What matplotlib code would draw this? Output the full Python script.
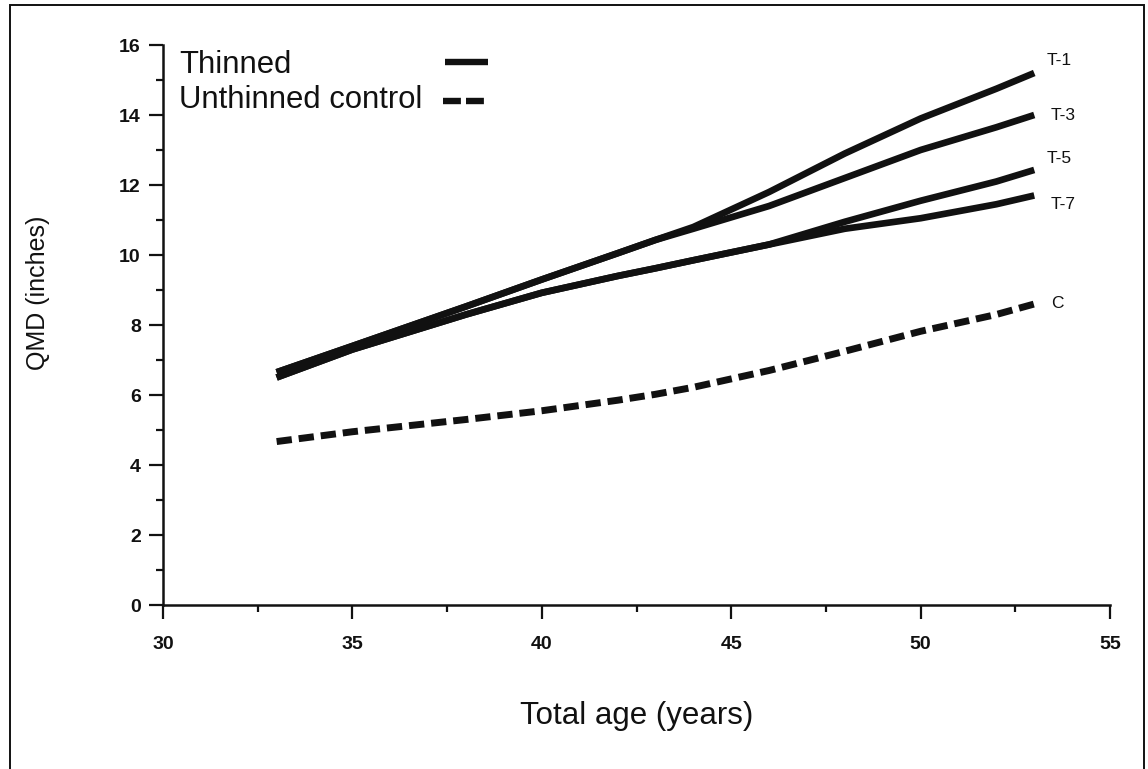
import matplotlib
matplotlib.use("Agg")
import matplotlib.pyplot as plt
from matplotlib.patches import Rectangle
from matplotlib.ticker import MultipleLocator

plt.rcParams['font.family'] = ['Liberation Sans', 'DejaVu Sans']

# ---- data ----
ages = [33, 35, 38, 40, 42, 43, 44, 46, 48, 50, 52, 53]
t1 = [6.65, 7.4, 8.53, 9.3, 10.05, 10.43, 10.8, 11.8, 12.9, 13.9, 14.75, 15.2]
t3 = [6.65, 7.4, 8.53, 9.3, 10.05, 10.43, 10.75, 11.4, 12.2, 13.0, 13.65, 14.0]
t5 = [6.5, 7.3, 8.3, 8.92, 9.4, 9.62, 9.85, 10.3, 10.95, 11.55, 12.1, 12.43]
t7 = [6.5, 7.3, 8.3, 8.92, 9.4, 9.62, 9.85, 10.3, 10.75, 11.05, 11.45, 11.7]
ctrl = [4.67, 4.95, 5.3, 5.55, 5.85, 6.02, 6.22, 6.7, 7.25, 7.82, 8.3, 8.6]

series_names = ['T-1', 'T-3', 'T-5', 'T-7']
label_dy = {'T-1': 0.37, 'T-3': 0.0, 'T-5': 0.34, 'T-7': -0.27, 'C': 0.0}
label_dx = {'T-1': 0.33, 'T-3': 0.42, 'T-5': 0.33, 'T-7': 0.42, 'C': 0.45}

xticks = [30, 35, 40, 45, 50, 55]
yticks = [0, 2, 4, 6, 8, 10, 12, 14, 16]

fig = plt.figure(figsize=(11.48, 7.69), dpi=100)
ax = fig.add_axes([163/1148, 1 - 605/769, (1110-163)/1148, (605-45)/769])

lw = 4.8
for name, vals in zip(series_names, [t1, t3, t5, t7]):
    ax.plot(ages, vals, color='#111111', lw=lw, solid_capstyle='butt',
            solid_joinstyle='round')
    ax.text(ages[-1] + label_dx[name], vals[-1] + label_dy[name], name,
            fontsize=12.5, va='center', ha='left', color='#111111')

ax.plot(ages, ctrl, color='#111111', lw=5.0, dashes=(2.2, 1.0),
        dash_capstyle='butt')
ax.text(ages[-1] + label_dx['C'], ctrl[-1] + label_dy['C'], 'C',
        fontsize=12.5, va='center', ha='left', color='#111111')

ax.set_xlim(30, 55)
ax.set_ylim(0, 16)
for s in ['top', 'right']:
    ax.spines[s].set_visible(False)
for s in ['left', 'bottom']:
    ax.spines[s].set_linewidth(1.8)
    ax.spines[s].set_color('#111111')

ax.set_xticks(xticks)
ax.set_yticks(yticks)
ax.xaxis.set_minor_locator(MultipleLocator(2.5))
ax.yaxis.set_minor_locator(MultipleLocator(1))
ax.tick_params(axis='both', which='major', direction='out', length=10,
               width=1.6, color='#111111')
ax.tick_params(axis='both', which='minor', direction='out', length=5,
               width=1.6, color='#111111')
ax.tick_params(axis='x', which='major', pad=12)
ax.tick_params(axis='y', which='major', pad=6)
for lab in ax.get_xticklabels() + ax.get_yticklabels():
    lab.set_fontsize(14)
    lab.set_fontweight('bold')
    lab.set_color('#111111')

ax.set_xlabel('Total age (years)', fontsize=22.5, labelpad=35, color='#111111')
ax.set_ylabel('QMD (inches)', fontsize=18, color='#111111')
ax.yaxis.set_label_coords(-0.119, 0.557)

# legend (manual)
ax.text(0.0169, 0.964, 'Thinned', transform=ax.transAxes, fontsize=22.3,
        va='center', ha='left', color='#111111')
ax.text(0.0169, 0.901, 'Unthinned control', transform=ax.transAxes, fontsize=22.3,
        va='center', ha='left', color='#111111')
ax.plot([0.2978, 0.3432], [0.969, 0.969], transform=ax.transAxes, color='#111111',
        lw=4.6, solid_capstyle='butt', clip_on=False)
ax.plot([0.2957, 0.3400], [0.900, 0.900], transform=ax.transAxes, color='#111111',
        lw=4.6, dashes=(2.8, 0.8), clip_on=False)

# figure frame
fig.patches.append(Rectangle((10/1148, -0.01), (1144-10)/1148, 1 - 5/769 + 0.01,
                             transform=fig.transFigure, fill=False,
                             edgecolor='#111111', lw=1.4))

fig.savefig('out.png', dpi=100)
